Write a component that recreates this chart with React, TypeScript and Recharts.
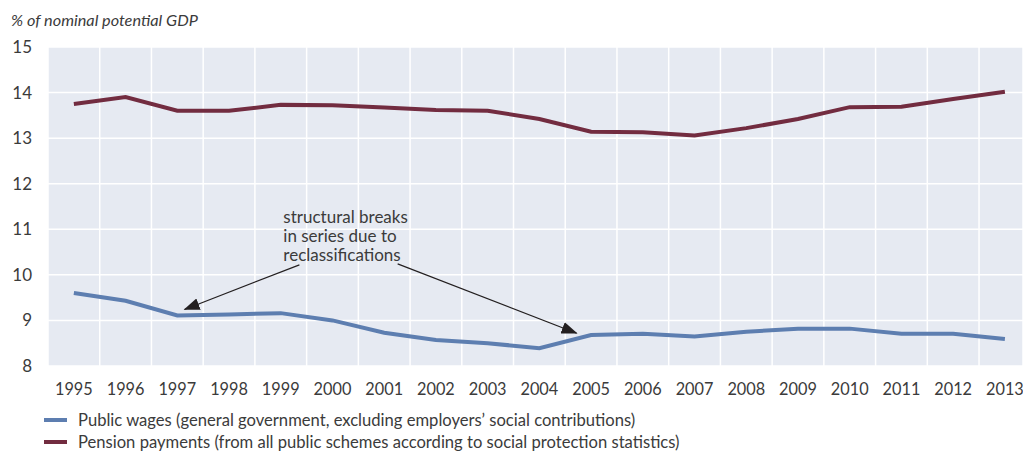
import React from 'react';
import {
  LineChart, Line, XAxis, YAxis, CartesianGrid, Legend, ReferenceLine, ReferenceDot,
} from 'recharts';

const years = [1995, 1996, 1997, 1998, 1999, 2000, 2001, 2002, 2003, 2004, 2005, 2006, 2007, 2008, 2009, 2010, 2011, 2012, 2013];
const publicWages = [9.6, 9.43, 9.11, 9.13, 9.16, 9.0, 8.73, 8.57, 8.5, 8.39, 8.68, 8.71, 8.65, 8.75, 8.82, 8.82, 8.71, 8.71, 8.59];
const pensionPayments = [13.75, 13.9, 13.6, 13.6, 13.73, 13.72, 13.67, 13.62, 13.6, 13.42, 13.14, 13.13, 13.06, 13.22, 13.42, 13.68, 13.69, 13.86, 14.02];
const yTicks = [8, 9, 10, 11, 12, 13, 14, 15];
const gridYears = [1995.5, 1996.5, 1997.5, 1998.5, 1999.5, 2000.5, 2001.5, 2002.5, 2003.5, 2004.5, 2005.5, 2006.5, 2007.5, 2008.5, 2009.5, 2010.5, 2011.5, 2012.5];
const xDomain = [1994.5, 2013.35];
const yDomain = [8, 15];

const wagesLabel = 'Public wages (general government, excluding employers\u2019 social contributions)';
const pensionLabel = 'Pension payments (from all public schemes according to social protection statistics)';
const yTitle = '% of nominal potential GDP';
const noteLines = ['structural breaks', 'in series due to', 'reclassifications'];
// annotation anchors in data coordinates
const noteAnchor = { x: 1999.05, y: 11.14 };
const arrowLeft = [{ x: 1999.36, y: 10.22 }, { x: 1997.14, y: 9.24 }];
const arrowRight = [{ x: 2001.26, y: 10.24 }, { x: 2004.72, y: 8.72 }];

const data = years.map((year, i) => ({ year, wages: publicWages[i], pension: pensionPayments[i] }));

const WAGES = '#5D7EB0';
const PENSION = '#722C40';
const FONT = 'Lato, "Open Sans", sans-serif';
const TEXT = '#3b3b3b';

const legendItems = [
  { label: wagesLabel, color: WAGES },
  { label: pensionLabel, color: PENSION },
];

const LegendContent = () => (
  <div style={{ fontFamily: FONT, fontSize: 16.6, color: TEXT, height: 44 }}>
    {legendItems.map((it) => (
      <div key={it.label} style={{ display: 'flex', alignItems: 'center', height: 22 }}>
        <span style={{ display: 'inline-block', width: 23, height: 4, background: it.color, marginRight: 11 }} />
        <span>{it.label}</span>
      </div>
    ))}
  </div>
);

const NoteLabel = (props: any) => {
  const vb = props.viewBox || {};
  const x = vb.x ?? 0;
  const y = vb.y ?? 0;
  return (
    <text x={x} y={y} fill={TEXT} fontFamily={FONT} fontSize={17}>
      {noteLines.map((l, i) => (
        <tspan key={l} x={x} dy={i === 0 ? 0 : 19}>{l}</tspan>
      ))}
    </text>
  );
};

export default function App() {
  return (
    <div style={{ position: 'absolute', left: 0, top: 0, width: 1023, height: 453, background: '#fff' }}>
      <div style={{ position: 'absolute', left: 11, top: 10, fontFamily: FONT, fontSize: 16.3, fontStyle: 'italic', color: TEXT }}>
        {yTitle}
      </div>
      <LineChart width={1023} height={453} data={data} margin={{ top: 47, right: 0, left: 0, bottom: 0 }}>
        <defs>
          <marker id="arrowHead" markerWidth="16" markerHeight="12" refX="15" refY="6" orient="auto" markerUnits="userSpaceOnUse">
            <path d="M0,0 L16,6 L0,12 Z" fill="#231F20" />
          </marker>
        </defs>
        <CartesianGrid
          xAxisId="grid"
          fill="#E6EAF2"
          fillOpacity={1}
          stroke="#ffffff"
          strokeWidth={1.5}
        />
        <XAxis
          dataKey="year"
          type="number"
          domain={xDomain}
          ticks={years}
          allowDataOverflow
          axisLine={false}
          tickLine={false}
          tickMargin={11}
          height={43}
          interval={0}
          tick={{ fill: TEXT, fontSize: 16.3, fontFamily: FONT }}
        />
        <XAxis xAxisId="grid" dataKey="year" type="number" domain={xDomain} ticks={gridYears} allowDataOverflow hide />
        <YAxis
          domain={yDomain}
          ticks={yTicks}
          axisLine={false}
          tickLine={false}
          width={48}
          tickMargin={10}
          interval={0}
          tick={{ fill: TEXT, fontSize: 17, fontFamily: FONT }}
        />
        <Legend verticalAlign="bottom" align="left" content={<LegendContent />} wrapperStyle={{ left: 44 }} />
        <Line type="linear" dataKey="wages" stroke={WAGES} strokeWidth={4} dot={false} isAnimationActive={false} />
        <Line type="linear" dataKey="pension" stroke={PENSION} strokeWidth={4} dot={false} isAnimationActive={false} />
        <ReferenceLine segment={arrowLeft} stroke="#231F20" strokeWidth={1.2} markerEnd="url(#arrowHead)" ifOverflow="visible" />
        <ReferenceLine segment={arrowRight} stroke="#231F20" strokeWidth={1.2} markerEnd="url(#arrowHead)" ifOverflow="visible" />
        <ReferenceDot x={noteAnchor.x} y={noteAnchor.y} r={0} fill="none" stroke="none" ifOverflow="visible" label={<NoteLabel />} />
      </LineChart>
    </div>
  );
}
